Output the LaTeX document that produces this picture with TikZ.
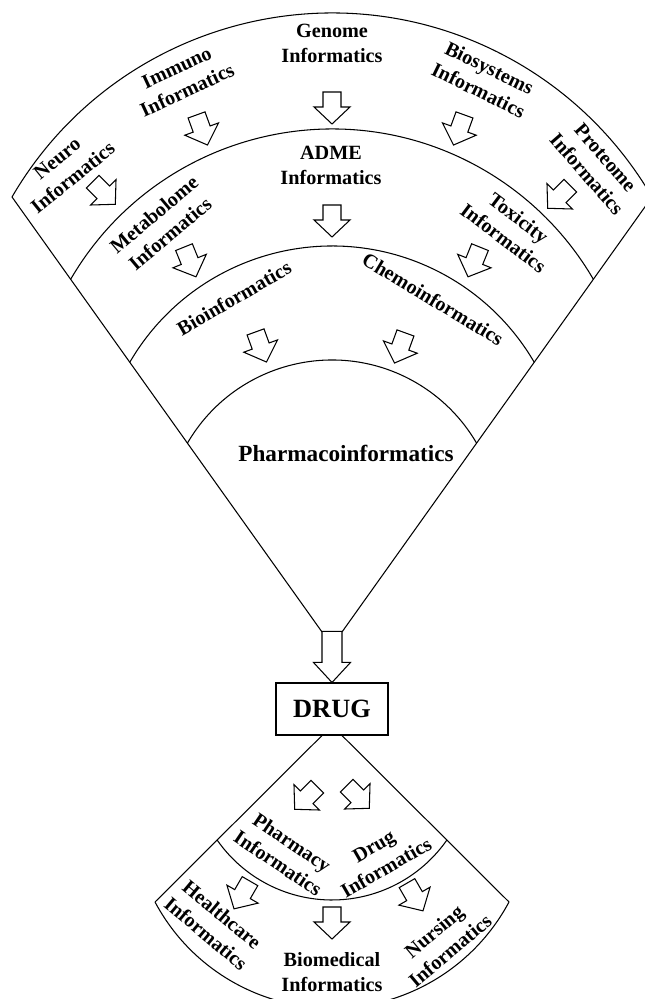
\documentclass[tikz,border=0pt]{standalone}
\usepackage{amsmath, amssymb}
\usepackage{tikz}
\usetikzlibrary{calc}
\usepackage{tkz-euclide}
\usepackage{xcolor}
\usepackage{fontspec}
\setmainfont{Liberation Serif}

\tikzset{
    lbl/.style = {font=\fontsize{11.5}{14.2}\selectfont\bfseries, align=center, inner sep=0pt},
    pics/blkarrow/.style = {code={
        \draw[fill=white] (-16,-9) -- (-1,-9) -- (-1,-18) -- (16,0) -- (-1,18) -- (-1,9) -- (-16,9) -- cycle;
    }}
}

\begin{document}
\begin{tikzpicture}[x=0.2mm, y=0.2mm, line width=0.6pt]
            \useasboundingbox (0,0) rectangle (644,999);
            \tkzDefPoints{332/353/O, 12/802/L, 652/802/R, 322/367/A, 342/367/B}
            \tkzDefPoints{332/239/P, 332/191.4/Q, 155/97/C, 509/97/D}
            \draw (L) -- (A);
            \draw (R) -- (B);
            \draw (O) ++(0,262.7) ++(149.8:370.3) arc[start angle=149.8, end angle=30.2, radius=370.3];
            \draw (O) ++(0,214.6) ++(149.8:302.4) arc[start angle=149.8, end angle=30.2, radius=302.4];
            \draw (O) ++(0,166) ++(149.8:234) arc[start angle=149.8, end angle=30.2, radius=234];
            \draw (O) ++(0,118.7) ++(149.8:167.3) arc[start angle=149.8, end angle=30.2, radius=167.3];
            \node[lbl] (genome) at (332,956) {Genome\\Informatics};
            \node[lbl, rotate=25] (immuno) at (182,920) {Immuno\\Informatics};
            \node[lbl, rotate=-26] (biosys) at (484,920) {Biosystems\\Informatics};
            \node[lbl, rotate=39] (neuro) at (65,831) {Neuro\\Informatics};
            \node[lbl, rotate=-49] (proteome) at (596,833) {Proteome\\Informatics};
            \node[lbl, rotate=40] (metabolome) at (162,775) {Metabolome\\Informatics};
            \node[lbl] (adme) at (331,834) {ADME\\Informatics};
            \node[lbl, rotate=-37] (toxicity) at (511,771) {Toxicity\\Informatics};
            \node[lbl, rotate=30] (bioinf) at (234,701) {Bioinformatics};
            \node[lbl, rotate=-31] (chemoinf) at (433,700) {Chemoinformatics};
            \node[lbl, font=\fontsize{13.2}{16}\selectfont\bfseries] (pharmaco) at (346,546) {Pharmacoinformatics};
            \pic[rotate=-45] at (104,806) {blkarrow};
            \pic[rotate=-70] at (202,869) {blkarrow};
            \pic[rotate=-90] at (332,891) {blkarrow};
            \pic[rotate=-110] at (459,869) {blkarrow};
            \pic[rotate=-135] at (559,802) {blkarrow};
            \pic[rotate=-68] at (190,737) {blkarrow};
            \pic[rotate=-90] at (332,778) {blkarrow};
            \pic[rotate=-112] at (474,737) {blkarrow};
            \pic[rotate=-70] at (261,652) {blkarrow};
            \pic[rotate=-110] at (400,651) {blkarrow};
            \node[draw, minimum width=22.4mm, minimum height=10.4mm, inner sep=0pt,
                  font=\fontsize{15}{18}\selectfont\bfseries] (drug) at (332,290) {DRUG};
            \draw[fill=white] (drug.north) -- ++(18.5,20) -- ++(-8.5,0) -- ++(0,31)
                -- ++(-20,0) -- ++(0,-31) -- ++(-8.5,0) -- cycle;
            \draw ($(drug.south)+(-10,0)$) -- (C);
            \draw ($(drug.south)+(10,0)$) -- (D);
            \draw (P) ++(214.8:140) arc[start angle=214.8, end angle=325.2, radius=140];
            \draw (Q) ++(208.1:200.6) arc[start angle=208.1, end angle=331.9, radius=200.6];
            \node[lbl, rotate=-34] (pharmacy) at (285,146) {Pharmacy\\Informatics};
            \node[lbl, rotate=30] (druginf) at (380,142) {Drug\\Informatics};
            \node[lbl, rotate=-40] (healthcare) at (214,75) {Healthcare\\Informatics};
            \node[lbl] (biomedical) at (332,27) {Biomedical\\Informatics};
            \node[lbl, rotate=40] (nursing) at (442,58) {Nursing\\Informatics};
            \pic[rotate=-135] at (306,201) {blkarrow};
            \pic[rotate=-45] at (358,202) {blkarrow};
            \pic[rotate=-120] at (242,104) {blkarrow};
            \pic[rotate=-90] at (332,76) {blkarrow};
            \pic[rotate=-60] at (415,102) {blkarrow};
\end{tikzpicture}
\end{document}
